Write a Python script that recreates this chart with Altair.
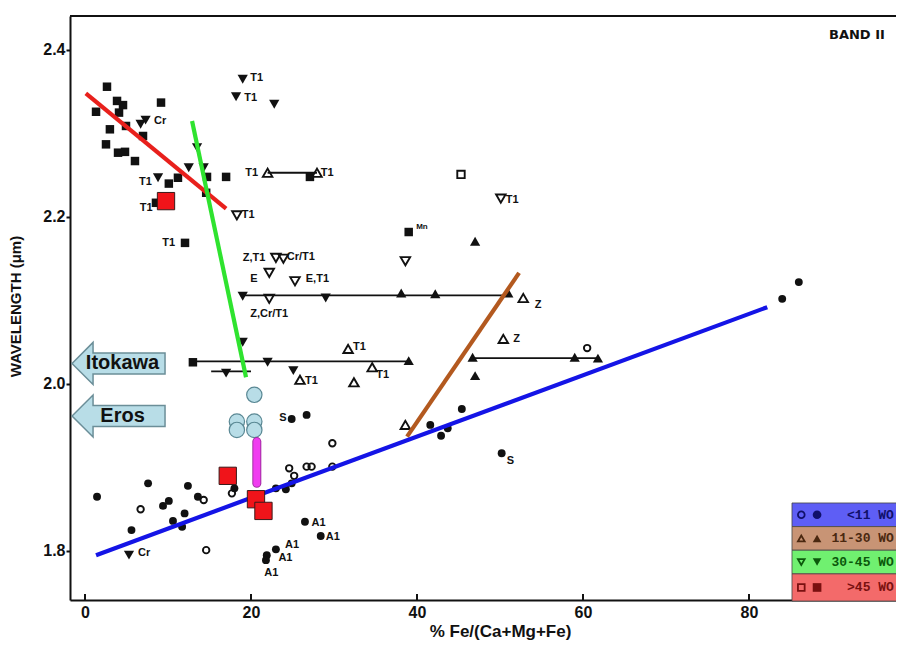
import altair as alt
import pandas as pd

# ---------------- data ----------------
# <11 Wo : filled and open circles
fc_x = [1.45, 7.6, 5.6, 9.4, 10.1, 10.6, 11.7, 12.0, 12.4, 13.6, 18.0, 24.9, 26.7, 26.5, 28.4,
        23.0, 21.9, 21.8, 23.0, 24.2, 24.9, 41.6, 45.4, 43.7, 42.9, 50.2, 86.0, 84.0]
fc_y = [1.865, 1.881, 1.825, 1.854, 1.860, 1.836, 1.829, 1.845, 1.878, 1.865, 1.875, 1.958, 1.963,
        1.835, 1.818, 1.802, 1.795, 1.789, 1.875, 1.874, 1.881, 1.951, 1.970, 1.947, 1.938, 1.917,
        2.122, 2.102]
oc_x = [6.7, 14.3, 14.6, 17.7, 24.6, 25.2, 26.7, 27.3, 29.8, 29.8, 60.5]
oc_y = [1.850, 1.861, 1.801, 1.869, 1.899, 1.890, 1.901, 1.901, 1.929, 1.901, 2.043]

# 11-30 Wo : up triangles
fu_x = [47.0, 38.1, 42.2, 51.0, 39.0, 46.7, 59.0, 61.8, 47.0]
fu_y = [2.171, 2.109, 2.108, 2.109, 2.028, 2.032, 2.032, 2.031, 2.010]
ou_x = [22.0, 27.95, 52.8, 31.7, 34.6, 32.4, 25.9, 50.4, 38.6]
ou_y = [2.253, 2.253, 2.103, 2.042, 2.020, 2.002, 2.005, 2.054, 1.951]

# 30-45 Wo : down triangles
fd_x = [8.8, 12.5, 14.3, 13.5, 19.0, 18.2, 22.8, 6.7, 7.3, 19.0, 29.0, 19.0, 22.0, 17.0, 25.1, 5.3]
fd_y = [2.247, 2.259, 2.259, 2.283, 2.365, 2.344, 2.335, 2.311, 2.316, 2.105, 2.103, 2.050,
        2.026, 2.013, 2.016, 1.795]
od_x = [18.3, 50.1, 38.6, 23.0, 23.9, 22.2, 25.3, 22.2]
od_y = [2.202, 2.222, 2.147, 2.151, 2.150, 2.133, 2.123, 2.102]

# >45 Wo : squares
fs_x = [2.65, 1.33, 3.86, 4.58, 4.1, 3.0, 4.94, 2.53, 3.98, 4.82, 6.02, 9.16, 6.99, 10.1, 11.2,
        14.7, 17.0, 14.6, 8.55, 12.05, 27.1, 39.0, 13.0]
fs_y = [2.356, 2.326, 2.339, 2.334, 2.325, 2.305, 2.309, 2.287, 2.277, 2.278, 2.267, 2.337, 2.297,
        2.240, 2.247, 2.248, 2.248, 2.229, 2.217, 2.169, 2.248, 2.182, 2.026]
os_x = [45.3]
os_y = [2.251]

# overlays
red_sq_x = [9.76, 17.2, 20.6, 21.5]
red_sq_y = [2.219, 1.890, 1.862, 1.848]
blue_c_x = [20.4, 18.3, 20.4, 18.3, 20.4]
blue_c_y = [1.987, 1.955, 1.955, 1.945, 1.945]
mag_x = [20.7]
mag_y1 = [1.931]
mag_y2 = [1.881]

# connecting horizontal lines
seg_x1 = [22.0, 18.7, 13.0, 15.2, 46.7]
seg_x2 = [27.95, 51.0, 39.0, 20.0, 61.8]
seg_y = [2.253, 2.106, 2.027, 2.015, 2.031]

# coloured trend lines
trend_name = ["red", "green", "brown", "blue"]
trend_x1 = [0.1, 12.9, 38.8, 1.33]
trend_y1 = [2.348, 2.315, 1.937, 1.795]
trend_x2 = [17.0, 19.4, 52.3, 82.2]
trend_y2 = [2.210, 2.008, 2.133, 2.092]
trend_col = ["#e8201c", "#2fe32f", "#b3591f", "#1414e6"]

# point labels
lab_t = ["Cr", "T1", "T1", "T1", "T1", "T1", "T1", "T1", "T1", "T1", "Z,T1", "Cr/T1", "E", "E,T1",
         "Z,Cr/T1", "Z", "T1", "T1", "T1", "Z", "S", "S", "A1", "A1", "A1", "A1", "A1", "Cr"]
lab_x = [8.31, 19.9, 19.2, 6.5, 6.6, 18.9, 9.3, 19.3, 28.4, 50.7, 19.0, 24.3, 19.9, 26.6,
         19.9, 54.2, 32.3, 35.1, 26.5, 51.6, 50.8, 23.4, 27.3, 29.0, 24.1, 23.3, 21.6, 6.4]
lab_y = [2.315, 2.366, 2.343, 2.242, 2.211, 2.202, 2.169, 2.253, 2.253, 2.220, 2.151, 2.152,
         2.126, 2.126, 2.084, 2.095, 2.044, 2.011, 2.004, 2.054, 1.908, 1.959, 1.834, 1.817,
         1.807, 1.792, 1.774, 1.798]
mn_t = ["Mn"]
mn_x = [39.9]
mn_y = [2.188]

# asteroid arrows
ast_t = ["Itokawa", "Eros"]
ast_x = [4.04, 4.04]
ast_y = [2.0246, 1.9617]

# legend
leg_lab = ["<11 WO", "11-30 WO", "30-45 WO", ">45 WO"]
leg_shape = ["circle", "triangle-up", "triangle-down", "square"]
leg_fill = ["#5e5ef5", "#c89475", "#70f070", "#f36a6a"]
leg_ink = ["#10106a", "#4a2810", "#0b580b", "#7a1010"]

x_ticks = [0, 20, 40, 60, 80]
y_ticks = [1.8, 2.0, 2.2, 2.4]

# ---------------- chart ----------------
FONT = "Liberation Sans"
W, H = 826, 584
XD = [-1.807, 97.71]
YD = [1.7413, 2.4407]

x_axis = alt.Axis(values=x_ticks, format="d", ticks=False, tickSize=0, labelPadding=4,
                  labelFont=FONT, labelFontSize=16, labelFontWeight="bold", labelColor="#111",
                  labelFlush=False, domainColor="#111", domainWidth=2, grid=False,
                  titleX=430, titleY=31, titleAlign="center", titleBaseline="middle",
                  titleFont=FONT, titleFontSize=17, titleFontWeight="bold", titleColor="#111")
y_axis = alt.Axis(values=y_ticks, format=".1f", tickSize=4, tickColor="#111", tickWidth=2,
                  labelPadding=1, labelFont=FONT, labelFontSize=16, labelFontWeight="bold",
                  labelColor="#111", labelFlush=False, domainColor="#111", domainWidth=2,
                  grid=False, titleX=-55, titleY=290, titleAngle=270, titleAlign="center",
                  titleBaseline="middle", titleFont=FONT, titleFontSize=15,
                  titleFontWeight="bold", titleColor="#111")


def X(f="x"):
    return alt.X(f + ":Q", scale=alt.Scale(domain=XD, nice=False, zero=False),
                 axis=x_axis, title="% Fe/(Ca+Mg+Fe)")


def Y(f="y"):
    return alt.Y(f + ":Q", scale=alt.Scale(domain=YD, nice=False, zero=False),
                 axis=y_axis, title="WAVELENGTH (μm)")


def pts(xs, ys):
    return pd.DataFrame({"x": xs, "y": ys})


layers = []

# black connecting lines
seg_df = pd.DataFrame({"x1": seg_x1, "x2": seg_x2, "y": seg_y})
layers.append(alt.Chart(seg_df).mark_rule(color="#111", strokeWidth=1.8)
              .encode(x=X("x1"), x2="x2", y=Y()))

INK = "#111"
sym = [
    (fc_x, fc_y, "circle", True, 62),
    (oc_x, oc_y, "circle", False, 42),
    (fu_x, fu_y, "triangle-up", True, 105),
    (ou_x, ou_y, "triangle-up", False, 90),
    (fd_x, fd_y, "triangle-down", True, 105),
    (od_x, od_y, "triangle-down", False, 90),
    (fs_x, fs_y, "square", True, 72),
    (os_x, os_y, "square", False, 55),
]
for xs, ys, shp, fill, size in sym:
    if fill:
        m = alt.Chart(pts(xs, ys)).mark_point(shape=shp, filled=True, color=INK, size=size,
                                              opacity=1)
    else:
        m = alt.Chart(pts(xs, ys)).mark_point(shape=shp, filled=False, color=INK, size=size,
                                              strokeWidth=1.9, opacity=1)
    layers.append(m.encode(x=X(), y=Y()))

# point labels
lab_df = pd.DataFrame({"x": lab_x, "y": lab_y, "t": lab_t})
layers.append(alt.Chart(lab_df).mark_text(align="left", baseline="middle", font=FONT,
                                          fontSize=11, fontWeight="bold", color=INK)
              .encode(x=X(), y=Y(), text="t:N"))
mn_df = pd.DataFrame({"x": mn_x, "y": mn_y, "t": mn_t})
layers.append(alt.Chart(mn_df).mark_text(align="left", baseline="middle", font=FONT,
                                         fontSize=8, fontWeight="bold", color=INK)
              .encode(x=X(), y=Y(), text="t:N"))

# coloured trend lines
tr_df = pd.DataFrame({"n": trend_name, "x1": trend_x1, "y1": trend_y1, "x2": trend_x2,
                      "y2": trend_y2, "c": trend_col})
layers.append(alt.Chart(tr_df).mark_rule(strokeWidth=4.2)
              .encode(x=X("x1"), y=Y("y1"), x2="x2", y2="y2",
                      color=alt.Color("c:N", scale=None)))

# red squares, light-blue circles, magenta bar
layers.append(alt.Chart(pts(red_sq_x, red_sq_y))
              .mark_point(shape="square", filled=True, fill="#f0141a", stroke="#3a1a1a",
                          strokeWidth=1, size=300, opacity=1)
              .encode(x=X(), y=Y()))
layers.append(alt.Chart(pts(blue_c_x, blue_c_y))
              .mark_point(shape="circle", filled=True, fill="#b8dde7", stroke="#5a8894",
                          strokeWidth=1.2, size=235, opacity=1)
              .encode(x=X(), y=Y()))
mag_df = pd.DataFrame({"x": mag_x, "y1": mag_y1, "y2": mag_y2})
layers.append(alt.Chart(mag_df).mark_rule(color="#a02ca0", strokeWidth=9, strokeCap="round")
              .encode(x=X(), y=Y("y1"), y2="y2"))
layers.append(alt.Chart(mag_df).mark_rule(color="#f03cf0", strokeWidth=7, strokeCap="round")
              .encode(x=X(), y=Y("y1"), y2="y2"))

# asteroid arrows
ARROW = ("M -1 0 L -0.548 -0.452 L -0.548 -0.226 L 1 -0.226 L 1 0.226 "
         "L -0.548 0.226 L -0.548 0.452 Z")
ast_df = pd.DataFrame({"x": ast_x, "y": ast_y, "t": ast_t})
layers.append(alt.Chart(ast_df).mark_point(shape=ARROW, filled=True, fill="#b8dde7",
                                           stroke="#6b8e98", strokeWidth=1.5, size=8649,
                                           opacity=1)
              .encode(x=X(), y=Y()))
layers.append(alt.Chart(ast_df).mark_text(align="center", baseline="middle", dx=4, font=FONT,
                                          fontSize=20, fontWeight="bold", color="#111")
              .encode(x=X(), y=Y(), text="t:N"))

# inward x ticks and top frame line
layers.append(alt.Chart(pd.DataFrame({"x": x_ticks})).mark_rule(color="#111", strokeWidth=2)
              .encode(x=X(), y=alt.value(H), y2=alt.value(H - 6)))
layers.append(alt.Chart(pd.DataFrame({"a": [0]})).mark_rule(color="#111", strokeWidth=2)
              .encode(x=alt.value(0), x2=alt.value(W), y=alt.value(0)))

# BAND II
layers.append(alt.Chart(pd.DataFrame({"x": [93.0], "y": [2.418], "t": ["BAND II"]}))
              .mark_text(align="center", baseline="middle", font="DejaVu Sans", fontSize=13,
                         fontWeight="bold", color="#111")
              .encode(x=X(), y=Y(), text="t:N"))

# legend box (layout in data units)
row_top = 1.8575
row_h = 0.0283
leg_df = pd.DataFrame({
    "lab": leg_lab, "shape": leg_shape, "fill": leg_fill, "ink": leg_ink,
})
leg_df["y1"] = [row_top - i * row_h for i in range(4)]
leg_df["y2"] = [row_top - (i + 1) * row_h for i in range(4)]
leg_df.loc[3, "y2"] = 1.7400
leg_df["yc"] = (leg_df["y1"] + leg_df["y2"]) / 2
leg_df["x1"] = 85.18
leg_df["x2"] = 98.5
leg_df["xo"] = 86.3
leg_df["xf"] = 88.2
leg_df["xt"] = 97.45
layers.append(alt.Chart(leg_df).mark_rect(stroke="#444444", strokeWidth=0.8, opacity=1)
              .encode(x=X("x1"), x2="x2", y=Y("y1"), y2="y2",
                      fill=alt.Fill("fill:N", scale=None)))
layers.append(alt.Chart(leg_df).mark_point(filled=False, size=45, strokeWidth=1.8, opacity=1)
              .encode(x=X("xo"), y=Y("yc"), shape=alt.Shape("shape:N", scale=None),
                      stroke=alt.Stroke("ink:N", scale=None)))
layers.append(alt.Chart(leg_df).mark_point(filled=True, size=75, opacity=1)
              .encode(x=X("xf"), y=Y("yc"), shape=alt.Shape("shape:N", scale=None),
                      fill=alt.Fill("ink:N", scale=None)))
layers.append(alt.Chart(leg_df).mark_text(align="right", baseline="middle",
                                          font="Liberation Mono", fontSize=13,
                                          fontWeight="bold")
              .encode(x=X("xt"), y=Y("yc"), text="lab:N",
                      color=alt.Color("ink:N", scale=None)))

chart = alt.layer(*layers).properties(
    width=W, height=H,
    padding={"left": 62, "top": 8, "right": 0, "bottom": 45},
    autosize=alt.AutoSizeParams(type="none"),
    background="white",
).configure_view(stroke=None)

chart.save("out.html", embed_options={"renderer": "svg", "actions": False})
